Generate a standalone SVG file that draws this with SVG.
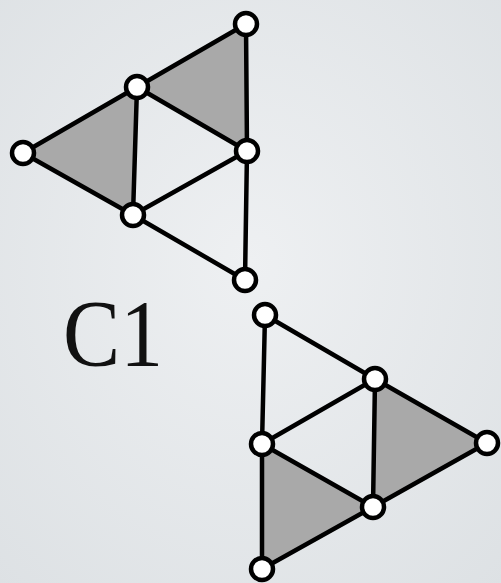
<svg xmlns="http://www.w3.org/2000/svg" width="501" height="583" viewBox="0 0 501 583">
<defs>
<radialGradient id="bg" cx="50%" cy="45%" r="75%">
<stop offset="0" stop-color="#eef0f2"/>
<stop offset="1" stop-color="#dde1e4"/>
</radialGradient>
<style>
.e{stroke:#000;stroke-width:4.5;stroke-linecap:round;fill:none}
.f{fill:#a9a9a9;stroke:none}
.n{fill:#fff;stroke:#000;stroke-width:4.5}
.t{font-family:"Liberation Serif",serif;font-size:96px;fill:#111}
</style>
</defs>
<rect width="501" height="583" fill="url(#bg)"/>
<g id="faces">
<polygon class="f" points="137,87 246,24 247,151"/>
<polygon class="f" points="23,153 137,87 133,215"/>
<polygon class="f" points="375,379 487,443 373,507"/>
<polygon class="f" points="262,444 373,507 262,569"/>
</g>
<g id="connectors">
<line class="e" x1="246" y1="24" x2="247" y2="151"/>
<line class="e" x1="247" y1="151" x2="245" y2="280"/>
<line class="e" x1="246" y1="24" x2="137" y2="87"/>
<line class="e" x1="137" y1="87" x2="23" y2="153"/>
<line class="e" x1="23" y1="153" x2="133" y2="215"/>
<line class="e" x1="137" y1="87" x2="133" y2="215"/>
<line class="e" x1="137" y1="87" x2="247" y2="151"/>
<line class="e" x1="247" y1="151" x2="133" y2="215"/>
<line class="e" x1="133" y1="215" x2="245" y2="280"/>
<line class="e" x1="265" y1="315" x2="262" y2="444"/>
<line class="e" x1="262" y1="444" x2="262" y2="569"/>
<line class="e" x1="265" y1="315" x2="375" y2="379"/>
<line class="e" x1="375" y1="379" x2="487" y2="443"/>
<line class="e" x1="487" y1="443" x2="373" y2="507"/>
<line class="e" x1="375" y1="379" x2="373" y2="507"/>
<line class="e" x1="375" y1="379" x2="262" y2="444"/>
<line class="e" x1="262" y1="444" x2="373" y2="507"/>
<line class="e" x1="373" y1="507" x2="262" y2="569"/>
</g>
<g id="n1"><circle class="n" cx="246" cy="24" r="11"/></g>
<g id="n2"><circle class="n" cx="137" cy="87" r="11"/></g>
<g id="n3"><circle class="n" cx="23" cy="153" r="11"/></g>
<g id="n4"><circle class="n" cx="247" cy="151" r="11"/></g>
<g id="n5"><circle class="n" cx="133" cy="215" r="11"/></g>
<g id="n6"><circle class="n" cx="245" cy="280" r="11"/></g>
<g id="n7"><circle class="n" cx="265" cy="315" r="11"/></g>
<g id="n8"><circle class="n" cx="375" cy="379" r="11"/></g>
<g id="n9"><circle class="n" cx="487" cy="443" r="11"/></g>
<g id="n10"><circle class="n" cx="262" cy="444" r="11"/></g>
<g id="n11"><circle class="n" cx="373" cy="507" r="11"/></g>
<g id="n12"><circle class="n" cx="262" cy="569" r="11"/></g>
<g id="label"><text class="t" x="63" y="366" textLength="100" lengthAdjust="spacingAndGlyphs">C1</text></g>
</svg>
